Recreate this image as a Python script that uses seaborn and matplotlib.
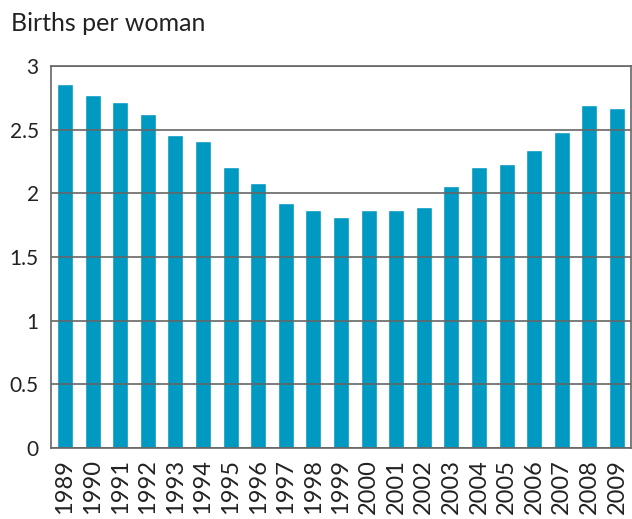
import matplotlib

matplotlib.use("Agg")
import matplotlib.pyplot as plt
import seaborn as sns
import pandas as pd

# Data
years = [str(y) for y in range(1989, 2010)]
births_per_woman = [2.86, 2.77, 2.72, 2.62, 2.46, 2.41, 2.21, 2.08, 1.92, 1.87,
                    1.81, 1.87, 1.87, 1.89, 2.06, 2.21, 2.23, 2.34, 2.48, 2.69, 2.67]
y_ticks = [0, 0.5, 1, 1.5, 2, 2.5, 3]
y_tick_labels = ["0", "0.5", "1", "1.5", "2", "2.5", "3"]

BAR_COLOR = "#0099c2"
LINE_COLOR = "#666666"
TEXT_COLOR = "#222222"

sns.set_style("white")
plt.rcParams["font.family"] = ["Lato", "DejaVu Sans"]

df = pd.DataFrame({"year": years, "value": births_per_woman})

fig = plt.figure(figsize=(6.32, 5.19), dpi=100)
ax = fig.add_axes([0.081, 0.137, 0.917, 0.736])

sns.barplot(data=df, x="year", y="value", color=BAR_COLOR, width=0.58,
            saturation=1, ax=ax, zorder=1)

ax.set_ylim(0, 3)
ax.set_xlim(-0.5, len(years) - 0.5)
ax.set_yticks(y_ticks)
ax.set_yticklabels(y_tick_labels)
ax.yaxis.grid(True, color=LINE_COLOR, linewidth=1.2)
ax.set_axisbelow(False)
ax.xaxis.grid(False)

for s in ax.spines.values():
    s.set_color(LINE_COLOR)
    s.set_linewidth(1.2)

ax.tick_params(axis="y", labelsize=15, length=0, pad=9, colors=TEXT_COLOR)
ax.tick_params(axis="x", labelsize=17, length=0, pad=8, colors=TEXT_COLOR,
               labelrotation=90)
ax.set_xlabel("")
ax.set_ylabel("")

fig.text(0.018, 0.955, "Births per woman", fontsize=18, color=TEXT_COLOR,
         ha="left", va="center")

fig.savefig("out.png", dpi=100)
